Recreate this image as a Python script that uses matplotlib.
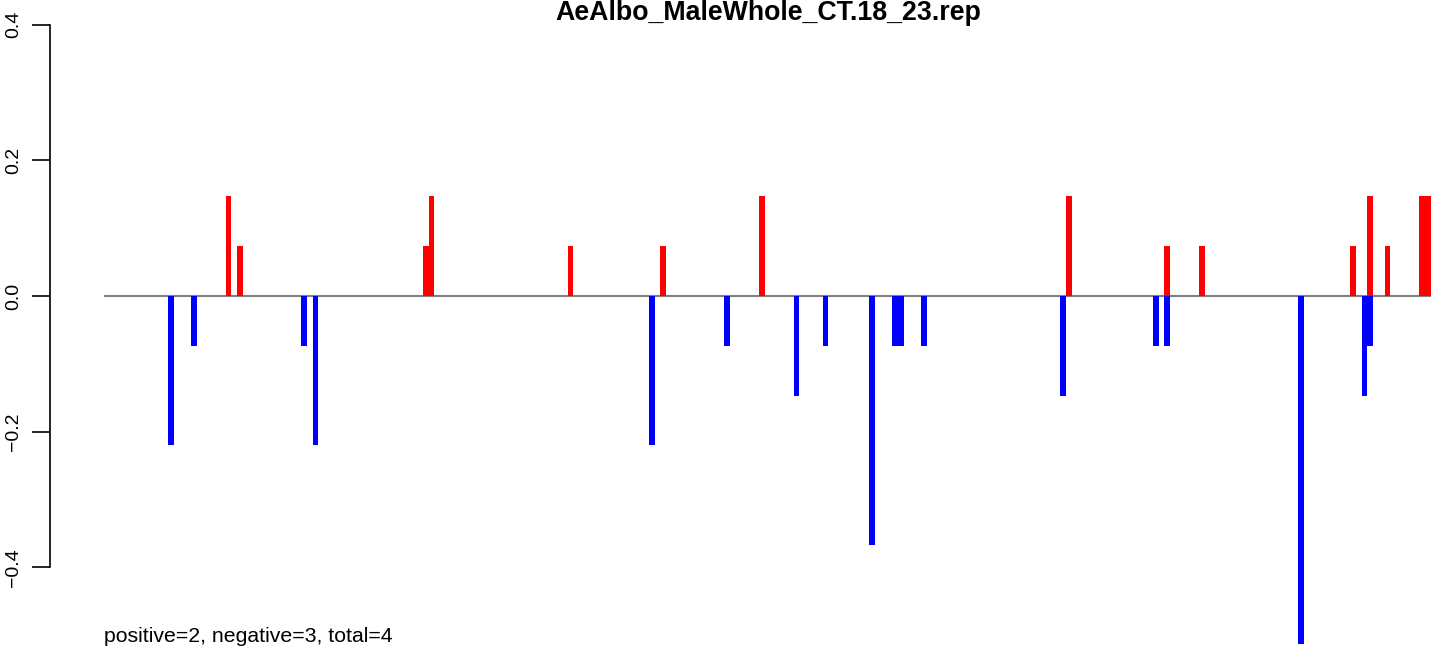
import numpy as np
import matplotlib
matplotlib.use('Agg')
import matplotlib.pyplot as plt

# Datos: posiciones (indice de bin) y valores
n_bins = 229
pos_idx = [21, 23, 55, 56, 80, 96, 113, 166, 183, 189, 215, 218, 221, 227, 228]
pos_val = [0.147, 0.073, 0.073, 0.147, 0.073, 0.073, 0.147, 0.147, 0.073, 0.073,
           0.073, 0.147, 0.073, 0.147, 0.147]
neg_idx = [11, 15, 34, 36, 94, 107, 119, 124, 132, 136, 137, 141, 165, 181, 183,
           206, 217, 218]
neg_val = [-0.22, -0.073, -0.073, -0.22, -0.22, -0.073, -0.147, -0.073, -0.367,
           -0.073, -0.073, -0.073, -0.147, -0.073, -0.073, -0.513, -0.147, -0.073]
yticks = [-0.4, -0.2, 0.0, 0.2, 0.4]
titulo = 'AeAlbo_MaleWhole_CT.18_23.rep'
resumen = 'positive=2, negative=3, total=4'

plt.rcParams['font.family'] = ['Liberation Sans', 'DejaVu Sans']

W, H = 1452, 656
fig = plt.figure(figsize=(W / 100, H / 100), dpi=100)
# el area del grafico se sale por la derecha, como en el original de R
ax = fig.add_axes([50 / W, 0, 1435 / W, 1])

bw = 5.795  # pixeles por bin
ax.set_xlim((50 - 104) / bw, (1485 - 104) / bw)
ax.set_ylim(-(H - 296) / 678.5, 296 / 678.5)

ax.hlines(0, 0, n_bins, color='#7f7f7f', lw=1.5, zorder=1)
ax.bar(neg_idx, neg_val, width=1, align='edge', color='#0000FF', lw=0, zorder=2)
ax.bar(pos_idx, pos_val, width=1, align='edge', color='#FF0000', lw=0, zorder=3)

for s in ['top', 'right', 'bottom']:
    ax.spines[s].set_visible(False)
ax.spines['left'].set_bounds(-0.4, 0.4)
ax.spines['left'].set_linewidth(1.2)
ax.set_xticks([])
ax.set_yticks(yticks)
ax.set_yticklabels(['\u22120.4', '\u22120.2', '0.0', '0.2', '0.4'],
                   rotation=90, va='center', fontsize=14)
ax.tick_params(axis='y', length=13, width=1.2, pad=7)

fig.text(768 / W, 1 - 13 / H, titulo, ha='center', va='center',
         fontsize=19.3, fontweight='bold')
fig.text(104 / W, 1 - 637 / H, resumen, ha='left', va='center', fontsize=15.3)

fig.savefig('out.png', dpi=100)
